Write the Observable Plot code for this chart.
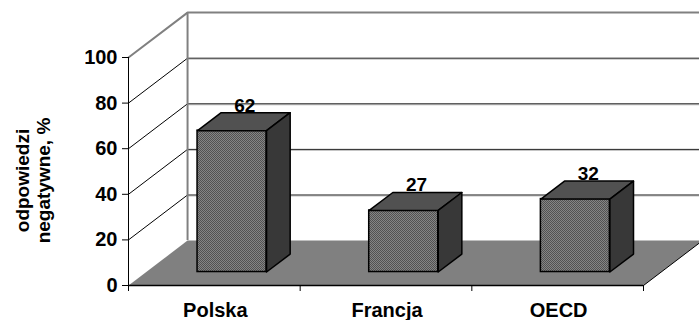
<!DOCTYPE html>
<html>
<head>
<meta charset="utf-8">
<script src="https://cdn.jsdelivr.net/npm/d3@7"></script>
<script src="https://cdn.jsdelivr.net/npm/@observablehq/plot@0.6"></script>
<style>
  html, body { margin: 0; padding: 0; background: #fff; }
  #chart svg { display: block; }
  g[aria-label="categories"] text { letter-spacing: 1.3px; }
  g[aria-label="ytitle"] text { letter-spacing: 1.5px; }
  g[aria-label="values"] text { letter-spacing: 1.2px; }
</style>
</head>
<body>
<div id="chart"></div>
<script>
// ---- data ----
const categories = ["Polska", "Francja", "OECD"];
const values = [62, 27, 32];
const yTicks = [0, 20, 40, 60, 80, 100];
const yTitle = ["odpowiedzi", "negatywne, %"];

// ---- 3D layout parameters (in data units) ----
const DX = 0.344;   // depth shift along x (category units)
const DY = 19.7;    // depth shift along y (value units)
const F0 = 0.3, F1 = 0.7;  // bar front/back depth fraction
const HW = 0.201;   // bar half width (category units)
const N = categories.length;

// polygons
const floor = [
  {x: 0, y: 0}, {x: N, y: 0}, {x: N + DX, y: DY}, {x: DX, y: DY}, {x: 0, y: 0}
];

const fronts = [], tops = [], sides = [];
values.forEach((v, i) => {
  const c = i + 0.5;
  const x1 = c - HW + F0 * DX, x2 = c + HW + F0 * DX;
  const y1 = F0 * DY, y2 = v + F0 * DY;
  const ddx = (F1 - F0) * DX, ddy = (F1 - F0) * DY;
  fronts.push({x1, x2, y1, y2});
  [[x1, y2], [x2, y2], [x2 + ddx, y2 + ddy], [x1 + ddx, y2 + ddy], [x1, y2]]
    .forEach(([x, y]) => tops.push({k: i, x, y}));
  [[x2, y1], [x2, y2], [x2 + ddx, y2 + ddy], [x2 + ddx, y1 + ddy], [x2, y1]]
    .forEach(([x, y]) => sides.push({k: i, x, y}));
});

const gridInner = yTicks.filter(t => t > 0 && t < 100);
const diag = [];
gridInner.forEach(t => { diag.push({k: t, x: 0, y: t}); diag.push({k: t, x: DX, y: t + DY}); });

const font = "'Liberation Sans', Arial, Helvetica, sans-serif";

const chart = Plot.plot({
  width: 699,
  height: 320,
  marginLeft: 128,
  marginRight: 56,
  marginTop: 57,
  marginBottom: 35,
  style: {fontFamily: font, fontWeight: "bold", background: "#fff", overflow: "visible"},
  x: {type: "linear", domain: [0, N], axis: null},
  y: {type: "linear", domain: [0, 100], axis: null},
  marks: [
    // floor
    Plot.line(floor, {x: "x", y: "y", fill: "#808080", stroke: "none"}),
    Plot.line([{x: N, y: 0}, {x: N + DX, y: DY}], {x: "x", y: "y", stroke: "#000", strokeWidth: 1}),
    // back wall gridlines
    Plot.ruleY(gridInner, {y: d => d + DY, x1: DX, x2: N + DX, stroke: "#bdbdbd", strokeWidth: 1, dy: 1}),
    Plot.ruleY(gridInner, {y: d => d + DY, x1: DX, x2: N + DX, stroke: "#222", strokeWidth: 1}),
    // side wall diagonals
    Plot.line(diag, {x: "x", y: "y", z: "k", stroke: "#000", strokeWidth: 1}),
    // wall outline (gray)
    Plot.line([{x: 0, y: 100}, {x: DX, y: 100 + DY}, {x: N + DX, y: 100 + DY}], {x: "x", y: "y", stroke: "#808080", strokeWidth: 2}),
    Plot.ruleX([DX], {y1: DY, y2: 100 + DY, stroke: "#808080", strokeWidth: 2}),
    // bars
    Plot.rect(fronts, {x1: "x1", x2: "x2", y1: "y1", y2: "y2", fill: "url(#patFront)", stroke: "#000", strokeWidth: 1.5}),
    Plot.line(tops, {x: "x", y: "y", z: "k", fill: "url(#patTop)", stroke: "#000", strokeWidth: 1.5, strokeLinejoin: "round"}),
    Plot.line(sides, {x: "x", y: "y", z: "k", fill: "url(#patSide)", stroke: "#000", strokeWidth: 1.5, strokeLinejoin: "round"}),
    // value labels
    Plot.text(values, {
      x: (d, i) => i + 0.5 + 0.5 * DX,
      y: d => d + F1 * DY,
      text: d => String(d),
      lineAnchor: "bottom",
      dx: 1,
      dy: -1,
      fontSize: 19,
      fontWeight: "bold",
      fill: "#000",
      ariaLabel: "values"
    }),
    // axes lines
    Plot.ruleX([0], {y1: 0, y2: 100, stroke: "#000", strokeWidth: 1}),
    Plot.ruleY([0], {x1: 0, x2: N, stroke: "#000", strokeWidth: 1.5}),
    Plot.axisY({ticks: yTicks, tickSize: 6, tickPadding: 5, fontSize: 20, fontWeight: "bold", label: null, stroke: "#000"}),
    Plot.axisX({ticks: d3.range(N + 1), tickSize: 6, tickFormat: () => "", label: null, stroke: "#000"}),
    Plot.text(categories, {
      x: (d, i) => i + 0.5,
      y: 0,
      dx: 1,
      dy: 25,
      text: d => d,
      lineAnchor: "middle",
      fontSize: 20,
      fontWeight: "bold",
      fill: "#000",
      ariaLabel: "categories"
    }),
    // y title
    Plot.text([yTitle.join("\n")], {
      frameAnchor: "left",
      textAnchor: "middle",
      text: d => d,
      rotate: -90,
      dx: -96,
      dy: 9,
      fontSize: 19,
      lineHeight: 1.15,
      fontWeight: "bold",
      fill: "#000",
      ariaLabel: "ytitle"
    })
  ]
});

// patterns for the dithered bar faces
const NS = "http://www.w3.org/2000/svg";
const defs = document.createElementNS(NS, "defs");
function pat(id, base, dot) {
  const p = document.createElementNS(NS, "pattern");
  p.setAttribute("id", id);
  p.setAttribute("patternUnits", "userSpaceOnUse");
  p.setAttribute("width", 2);
  p.setAttribute("height", 2);
  const r0 = document.createElementNS(NS, "rect");
  r0.setAttribute("width", 2); r0.setAttribute("height", 2); r0.setAttribute("fill", base);
  p.appendChild(r0);
  [[0, 0], [1, 1]].forEach(([x, y]) => {
    const r = document.createElementNS(NS, "rect");
    r.setAttribute("x", x); r.setAttribute("y", y);
    r.setAttribute("width", 1); r.setAttribute("height", 1);
    r.setAttribute("fill", dot);
    p.appendChild(r);
  });
  defs.appendChild(p);
}
pat("patFront", "#858585", "#525252");
pat("patTop", "#666666", "#3c3c3c");
pat("patSide", "#4a4a4a", "#262626");
chart.insertBefore(defs, chart.firstChild);

document.getElementById("chart").appendChild(chart);
</script>
</body>
</html>
